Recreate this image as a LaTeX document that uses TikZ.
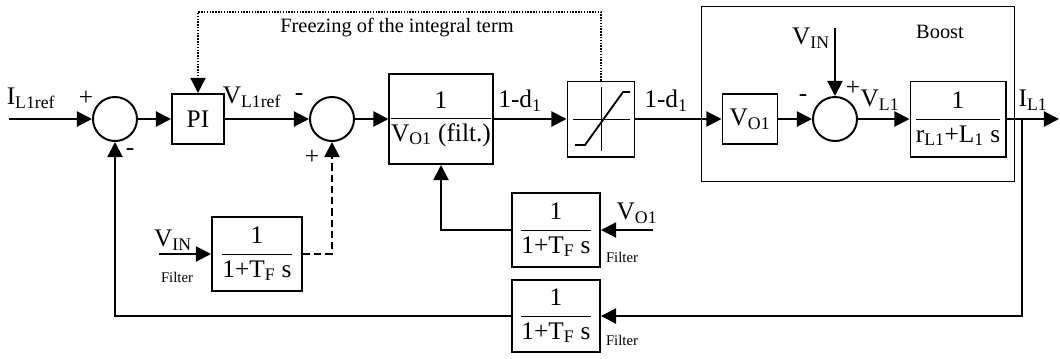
\documentclass[tikz,border=0pt]{standalone}
\usepackage{amsmath}
\usepackage{fontspec}
\setmainfont{Liberation Serif}
\usepackage{tikz}
\usetikzlibrary{arrows.meta, positioning}
\newcommand{\blkfrac}[2]{$\dfrac{\text{#1}}{\text{#2}}$}

\begin{document}
\begin{tikzpicture}[x=0.025cm, y=-0.025cm, font=\fontsize{18}{21}\selectfont,
    line width=1.4pt, >={Triangle[length=0.38cm, width=0.38cm]},
    blk/.style={draw, rectangle, inner sep=0pt},
    sumc/.style={draw, circle, minimum size=1.1cm, inner sep=0pt},
    lbl/.style={font=\fontsize{14.5}{17}\selectfont},
    filt/.style={font=\fontsize{10.5}{12}\selectfont}]
        \useasboundingbox (0,0) rectangle (1060,358);
        % forward path
        \node[sumc] (sum1) at (115,119) {};
        \node[blk, minimum width=1.3cm, minimum height=1.25cm] (PI) at (198,119) {PI};
        \node[sumc] (sum2) at (332,119) {};
        \node[blk, minimum width=2.525cm, minimum height=2.25cm] (blkVo) at (441,119)
          {\blkfrac{1}{V\textsubscript{O1} (filt.)}};
        \node[blk, minimum width=1.675cm, minimum height=1.875cm] (sat) at (601,119) {};
        \begin{scope}[shift={(sat.center)}, line width=0.5pt]
          \draw (0,-32) -- (0,32);
          \draw (-28,0) -- (29,0);
        \end{scope}
        \draw[line width=1.3pt, shift={(sat.center)}] (-26,26) -- (-16,26) -- (22,-27) -- (29,-27);
        % boost converter
        \node[draw, line width=0.6pt, minimum width=7.825cm, minimum height=4.375cm] (boost) at (857.5,93.5) {};
        \node[blk, minimum width=1.375cm, minimum height=1.25cm] (voBox) at (750,119) {V\textsubscript{O1}};
        \node[sumc] (sum3) at (835,119) {};
        \node[blk, minimum width=2.375cm, minimum height=1.875cm] (plant) at (958,119)
          {\blkfrac{1}{r\textsubscript{L1}+L\textsubscript{1} s}};
        % filters
        \node[blk, minimum width=2.25cm, minimum height=1.85cm] (filtIn) at (257,254)
          {\blkfrac{1}{1+T\textsubscript{F} s}};
        \node[blk, minimum width=2.2cm, minimum height=1.85cm] (filtVo) at (556,230)
          {\blkfrac{1}{1+T\textsubscript{F} s}};
        \node[blk, minimum width=2.2cm, minimum height=1.8cm] (filtFb) at (556,316)
          {\blkfrac{1}{1+T\textsubscript{F} s}};
        % free ends
        \coordinate (in) at (9,119);
        \coordinate (out) at (1059,119);
        \coordinate (br) at (1022,119);
        \coordinate (vin1) at (159,254);
        \coordinate (vo1) at (653,230);
        \coordinate (vin2) at (835,28);
        \coordinate (frz) at (400,12);
        % connectors
        \draw[->] (in) -- (sum1);
        \draw[->] (sum1) -- (PI);
        \draw[->] (PI) -- (sum2);
        \draw[->] (sum2) -- (blkVo);
        \draw[->] (blkVo) -- (sat);
        \draw[->] (sat) -- (voBox);
        \draw[->] (voBox) -- (sum3);
        \draw[->] (sum3) -- (plant);
        \draw[->] (plant) -- (out);
        \draw[->] (vin2) -- (sum3);
        \draw[->] (br) |- (filtFb);
        \draw[->] (filtFb) -| (sum1);
        \draw[->] (vin1) -- (filtIn);
        \draw[->, dash pattern=on 5pt off 3pt] (filtIn) -| (sum2);
        \draw[->] (vo1) -- (filtVo);
        \draw[->] (filtVo) -| (blkVo);
        \draw[->, densely dotted, line width=1pt] (sat) |- (frz) -| (PI);
        % labels
        \node (lIref) at (31,98) {I\textsubscript{L1ref}};
        \node (p1) at (86,98) {+};
        \node (m1) at (130,152) {-};
        \node (lVref) at (252,97) {V\textsubscript{L1ref}};
        \node (m2) at (299,97) {-};
        \node (p2) at (312,157) {+};
        \node[lbl] (lfrz) at (397,28) {Freezing of the integral term};
        \node (ld1) at (520,101) {1-d\textsubscript{1}};
        \node (ld2) at (666,101) {1-d\textsubscript{1}};
        \node (lvin1) at (173,240) {V\textsubscript{IN}};
        \node[filt] (f1) at (177,277) {Filter};
        \node (lvo1) at (637,213) {V\textsubscript{O1}};
        \node[filt] (f2) at (622,257) {Filter};
        \node[filt] (f3) at (622,340) {Filter};
        \node[lbl] (lboost) at (940,32) {Boost};
        \node (lvin2) at (811,38) {V\textsubscript{IN}};
        \node (m3) at (803,98) {-};
        \node (p3) at (853,88) {+};
        \node (lVL) at (880,100) {V\textsubscript{L1}};
        \node (lIL) at (1033,100) {I\textsubscript{L1}};
      \end{tikzpicture}
\end{document}
